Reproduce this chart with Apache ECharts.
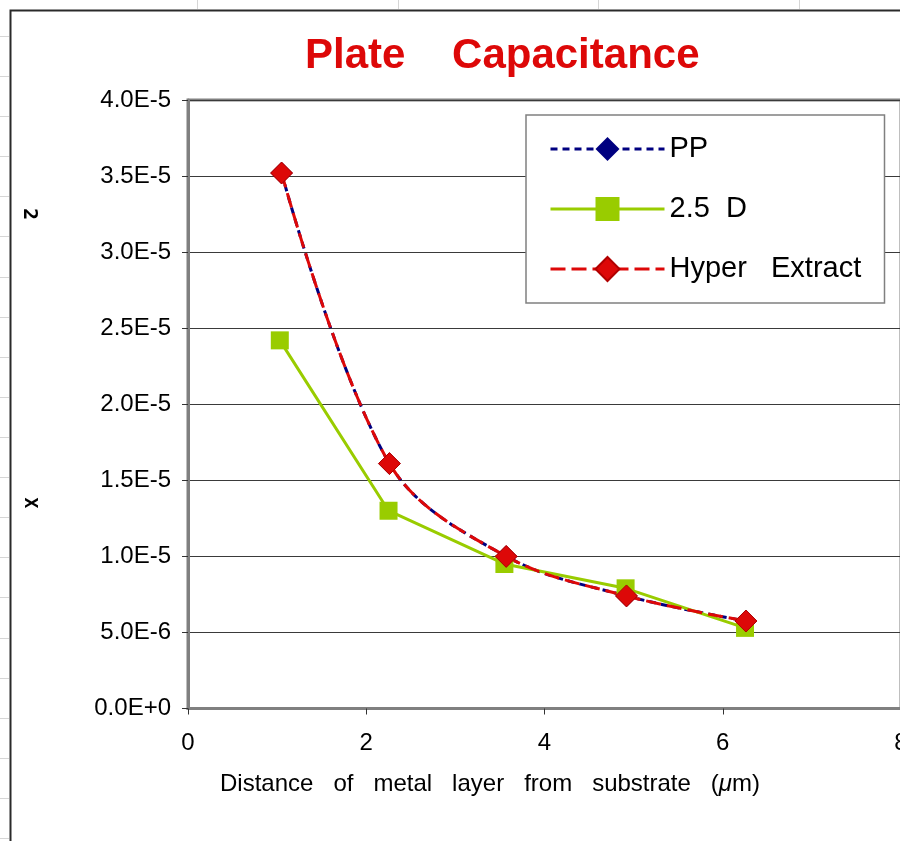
<!DOCTYPE html>
<html><head><meta charset="utf-8">
<script src="https://cdn.jsdelivr.net/npm/echarts@6/dist/echarts.min.js"></script>
<style>html,body{margin:0;padding:0;background:#fff}#c{width:900px;height:841px}</style>
</head><body><div id="c"></div>
<script>
// ---- data ----
const seriesNames = ['PP', '2.5 D', 'Hyper Extract'];
const xPP    = [1.05, 2.26, 3.57, 4.92, 6.26];
const yPP    = [3.52e-5, 1.61e-5, 1.00e-5, 7.4e-6, 5.75e-6];
const x25D   = [1.03, 2.25, 3.55, 4.91, 6.25];
const y25D   = [2.42e-5, 1.30e-5, 9.5e-6, 7.9e-6, 5.3e-6];
const xHyper = [1.05, 2.26, 3.57, 4.92, 6.26];
const yHyper = [3.52e-5, 1.61e-5, 1.00e-5, 7.4e-6, 5.75e-6];
const xTicks = [0, 2, 4, 6, 8];
const yTicks = [0, 5e-6, 1e-5, 1.5e-5, 2e-5, 2.5e-5, 3e-5, 3.5e-5, 4e-5];
const titleText = 'Plate    Capacitance';
const xName = 'Distance   of   metal   layer   from   substrate   ({i|μ}m)';

const zip = (xs, ys) => xs.map((v, i) => [v, ys[i]]);
const FONT = '"Liberation Sans", Arial, Helvetica, sans-serif';

// decorative spreadsheet cell lines outside the chart frame
const deco = [];
for (let y = 36; y < 841; y += 40.1) {
  deco.push({type: 'line', silent: true, z: -20, shape: {x1: 0, y1: Math.round(y) + 0.5, x2: 9, y2: Math.round(y) + 0.5}, style: {stroke: '#d6d6d6', lineWidth: 1}});
}
[197, 398, 598, 799].forEach(x => deco.push({type: 'line', silent: true, z: -20, shape: {x1: x + 0.5, y1: 0, x2: x + 0.5, y2: 9}, style: {stroke: '#d6d6d6', lineWidth: 1}}));
// chart frame
deco.push({type: 'polyline', silent: true, z: -10, shape: {points: [[10.5, 841], [10.5, 10.5], [900, 10.5]]}, style: {stroke: '#2a2a2a', lineWidth: 2, fill: null}});
// garbled rotated axis-title glyphs
deco.push({type: 'text', silent: true, x: 29, y: 214, rotation: -Math.PI / 2, style: {text: '2', font: 'bold 20px "DejaVu Sans Mono", monospace', fill: '#000', align: 'center', verticalAlign: 'middle'}});
deco.push({type: 'text', silent: true, x: 30, y: 503, rotation: -Math.PI / 2, style: {text: 'X', font: 'bold 18px "DejaVu Sans Mono", monospace', fill: '#000', align: 'center', verticalAlign: 'middle'}});

const chart = echarts.init(document.getElementById('c'), null, {renderer: 'canvas'});
chart.setOption({
  backgroundColor: '#ffffff',
  animation: false,
  title: {
    text: titleText, left: 305, top: 35, padding: 0,
    textStyle: {color: '#dd0808', fontFamily: FONT, fontWeight: 'bold', fontSize: 42, lineHeight: 42}
  },
  graphic: deco,
  grid: {left: 188, top: 100, width: 713, height: 608.5, show: true, borderColor: '#808080', borderWidth: 3,
    backgroundColor: 'transparent', containLabel: false, outerBoundsMode: 'none'},
  legend: {
    orient: 'vertical', left: 526, top: 115,
    padding: [19, 15, 19, 23], itemGap: 30, itemWidth: 114, itemHeight: 30,
    backgroundColor: '#fff', borderColor: '#808080', borderWidth: 1.5,
    lineStyle: {width: 3},
    textStyle: {fontFamily: FONT, fontSize: 29, color: '#000', lineHeight: 30, width: 200},
    formatter: n => n === '2.5 D' ? '2.5  D' : (n === 'Hyper Extract' ? 'Hyper   Extract' : n),
    data: seriesNames
  },
  xAxis: {
    type: 'value', min: xTicks[0], max: xTicks[xTicks.length - 1], interval: xTicks[1] - xTicks[0],
    name: xName, nameLocation: 'middle', nameGap: 64,
    nameTextStyle: {fontFamily: FONT, fontSize: 24, color: '#000', padding: [0, 109, 0, 0], rich: {i: {fontStyle: 'italic', fontFamily: FONT, fontSize: 24, color: '#000'}}},
    axisLine: {show: true, onZero: false, lineStyle: {color: '#808080', width: 3}},
    axisTick: {show: true, inside: false, length: 6, lineStyle: {color: '#333', width: 1}},
    axisLabel: {margin: 23, fontFamily: FONT, fontSize: 24, color: '#000'},
    splitLine: {show: false}
  },
  yAxis: {
    type: 'value', min: yTicks[0], max: yTicks[yTicks.length - 1], interval: yTicks[1] - yTicks[0],
    axisLine: {show: true, onZero: false, lineStyle: {color: '#808080', width: 3}},
    axisTick: {show: true, inside: false, length: 6, lineStyle: {color: '#333', width: 1}},
    axisLabel: {margin: 17, fontFamily: FONT, fontSize: 24, color: '#000',
      formatter: v => Number(v).toExponential(1).toUpperCase()},
    splitLine: {show: true, lineStyle: {color: '#3a3a3a', width: 1.2}}
  },
  series: [
    {name: seriesNames[0], type: 'line', data: zip(xPP, yPP), smooth: 0.35,
      symbol: 'diamond', symbolSize: 22,
      lineStyle: {color: '#000080', width: 3, type: [7, 5]},
      itemStyle: {color: '#000080'}},
    {name: seriesNames[1], type: 'line', data: zip(x25D, y25D), smooth: false,
      symbol: 'rect', symbolSize: 18,
      lineStyle: {color: '#99cc00', width: 3, type: 'solid'},
      itemStyle: {color: '#99cc00'}},
    {name: seriesNames[2], type: 'line', data: zip(xHyper, yHyper), smooth: 0.35,
      symbol: 'diamond', symbolSize: 22,
      lineStyle: {color: '#dd0808', width: 3, type: [15, 6]},
      itemStyle: {color: '#dd0808', borderColor: '#b00000', borderWidth: 1}}
  ]
});
</script></body></html>
